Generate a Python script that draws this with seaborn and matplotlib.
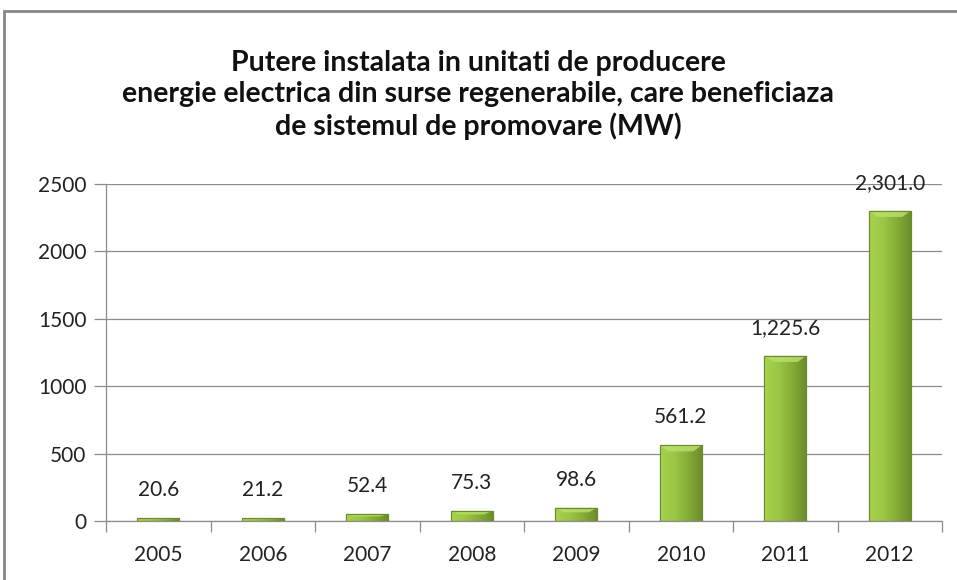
import matplotlib.pyplot as plt
import matplotlib.patches as patches
import numpy as np
import pandas as pd
import seaborn as sns
from matplotlib.colors import LinearSegmentedColormap

YEARS = ["2005", "2006", "2007", "2008", "2009", "2010", "2011", "2012"]
POWER_MW = [20.6, 21.2, 52.4, 75.3, 98.6, 561.2, 1225.6, 2301.0]
Y_TICKS = [0, 500, 1000, 1500, 2000, 2500]
TITLE = ("Putere instalata in unitati de producere\n"
         "energie electrica din surse regenerabile, care beneficiaza\n"
         "de sistemul de promovare (MW)")

sns.set_theme(style="white")
plt.rcParams["font.family"] = ["Lato", "DejaVu Sans"]

fig = plt.figure(figsize=(9.57, 5.8), dpi=100)
ax = fig.add_axes([106 / 957, 1 - 521 / 580, (942 - 106) / 957, (521 - 184) / 580])

df = pd.DataFrame({"year": YEARS, "mw": POWER_MW})
sns.barplot(data=df, x="year", y="mw", ax=ax, color="#92bf3e", width=0.4,
            edgecolor="#6a8a2c", linewidth=0.8, saturation=1)

# gradient fill clipped to each bar, lighter on the left, darker on the right
grad = LinearSegmentedColormap.from_list(
    "bar", ["#a6d24f", "#9cc746", "#86ad36", "#6b8d2c"])
xs = np.linspace(0, 1, 64)
shade = np.tile(xs, (16, 1))
for bar in ax.patches:
    x0, y0 = bar.get_x(), bar.get_y()
    w, h = bar.get_width(), bar.get_height()
    im = ax.imshow(shade, cmap=grad, aspect="auto", interpolation="bicubic",
                   extent=(x0, x0 + w, y0, y0 + h), zorder=bar.get_zorder() + 0.1)
    im.set_clip_path(bar)
    # highlight bevel on top
    bev = min(h * 0.35, 45)
    ax.add_patch(patches.Polygon(
        [(x0, y0 + h), (x0 + w, y0 + h), (x0 + w * 0.8, y0 + h - bev),
         (x0 + w * 0.2, y0 + h - bev)],
        closed=True, facecolor="#b8de68", edgecolor="none", alpha=0.85,
        zorder=bar.get_zorder() + 0.2))
    ax.add_patch(patches.Rectangle((x0, y0), w, h, facecolor="none",
                                   edgecolor="#6a8a2c", linewidth=0.8,
                                   zorder=bar.get_zorder() + 0.3))

ax.set_xlim(-0.5, len(YEARS) - 0.5)
ax.set_ylim(0, 2500)
ax.set_yticks(Y_TICKS)
ax.set_yticklabels([str(t) for t in Y_TICKS])
ax.yaxis.grid(True, color="#8c8c8c", linewidth=0.9)
ax.set_axisbelow(True)
ax.set_xlabel("")
ax.set_ylabel("")

for side in ["top", "right"]:
    ax.spines[side].set_visible(False)
for side in ["left", "bottom"]:
    ax.spines[side].set_color("#8c8c8c")
    ax.spines[side].set_linewidth(0.9)

ax.tick_params(axis="y", length=9, width=0.9, color="#8c8c8c", pad=5,
               labelsize=15, labelcolor="#222222", left=True)
ax.tick_params(axis="x", length=0, pad=17, labelsize=15, labelcolor="#222222")
# minor ticks between categories
ax.set_xticks(np.arange(-0.5, len(YEARS), 1), minor=True)
ax.tick_params(axis="x", which="minor", length=8, width=0.9, color="#8c8c8c",
               bottom=True)

for i, v in enumerate(POWER_MW):
    ax.annotate(f"{v:,.1f}", (i, v), xytext=(0, 13), textcoords="offset points",
                ha="center", va="bottom", fontsize=15, color="#222222")

fig.text(0.5, 1 - 95 / 580, TITLE, ha="center", va="center", fontsize=20.5,
         fontweight="bold", color="#111111", linespacing=1.25)

# chart frame (cut at right and bottom edges of the image)
fig.patches.append(patches.Rectangle((4 / 957, -0.1), 1.2, 1 - 11 / 580 + 0.1,
                                     transform=fig.transFigure, fill=False,
                                     edgecolor="#868686", linewidth=2))

fig.savefig("out.png", dpi=100)
